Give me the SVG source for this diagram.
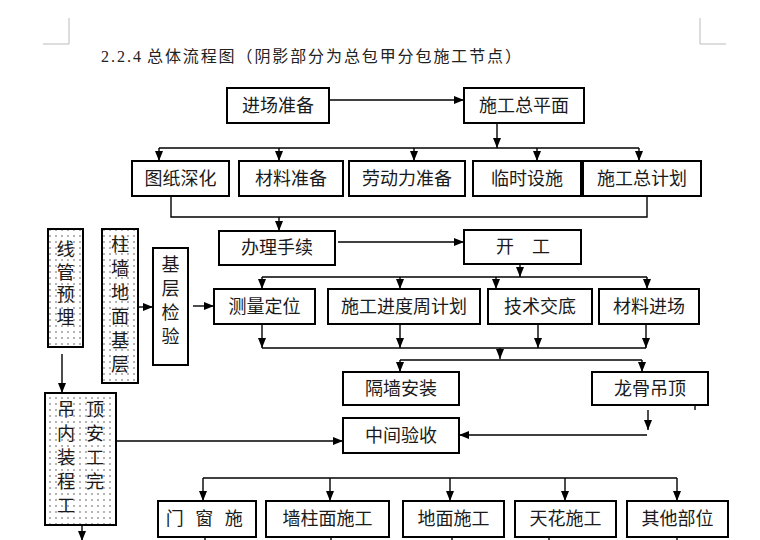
<svg xmlns="http://www.w3.org/2000/svg" width="760" height="540" viewBox="0 0 760 540">
<style>
.box{fill:#fff;stroke:#000;stroke-width:2}
.dot{fill:url(#dots);stroke:#000;stroke-width:2}
.t{font-family:"Liberation Serif","Noto Sans CJK SC",serif;font-size:18px;fill:#1a1a1a;text-anchor:middle;dominant-baseline:central}
.c{fill:none;stroke:#000;stroke-width:1.4}
.a{fill:none;stroke:#000;stroke-width:1.4;marker-end:url(#ah)}
.mark{fill:none;stroke:#bbb;stroke-width:1}
.title{font-family:"Liberation Serif","Noto Sans CJK SC",serif;font-size:16px;fill:#222}
</style>
<defs>
<marker id="ah" viewBox="0 0 10 8" refX="10" refY="4" markerWidth="10" markerHeight="8" markerUnits="userSpaceOnUse" orient="auto">
<path d="M0,0 L10,4 L0,8 Z" fill="#000"/>
</marker>
<pattern id="dots" width="6" height="6" patternUnits="userSpaceOnUse">
<rect width="6" height="6" fill="#fff"/>
<circle cx="2" cy="2" r="0.7" fill="#333"/>
</pattern>
</defs>
<rect width="760" height="540" fill="#fff"/>
<path class="mark" d="M69,18 V44 H43 M700,18 V44 H726"/>
<text class="title" x="101" y="62" textLength="40" lengthAdjust="spacing">2.2.4</text>
<text class="title" x="147" y="62" textLength="374" lengthAdjust="spacing">总体流程图（阴影部分为总包甲分包施工节点）</text>

<g id="connectors">
<line class="a" x1="329" y1="100" x2="464" y2="100"/>
<line class="c" x1="497" y1="123" x2="497" y2="138"/>
<line class="a" x1="497" y1="138" x2="497" y2="148"/>
<line class="c" x1="159" y1="148" x2="639" y2="148"/>
<line class="a" x1="159" y1="148" x2="159" y2="161"/>
<line class="a" x1="279" y1="148" x2="279" y2="161"/>
<line class="a" x1="414" y1="148" x2="414" y2="161"/>
<line class="a" x1="537" y1="148" x2="537" y2="161"/>
<line class="a" x1="639" y1="148" x2="639" y2="161"/>
<path class="c" d="M171,196 V217 H647 V196"/>
<line class="a" x1="279" y1="217" x2="279" y2="231"/>
<line class="a" x1="338" y1="242" x2="464" y2="242"/>
<line class="a" x1="520" y1="264" x2="520" y2="277"/>
<line class="c" x1="262" y1="277" x2="647" y2="277"/>
<line class="a" x1="262" y1="277" x2="262" y2="289"/>
<line class="a" x1="400" y1="277" x2="400" y2="289"/>
<line class="a" x1="496" y1="277" x2="496" y2="289"/>
<line class="a" x1="647" y1="277" x2="647" y2="289"/>
<line class="a" x1="262" y1="324" x2="262" y2="348"/>
<line class="a" x1="400" y1="324" x2="400" y2="348"/>
<line class="a" x1="538" y1="324" x2="538" y2="348"/>
<line class="a" x1="646" y1="324" x2="646" y2="348"/>
<line class="c" x1="262" y1="348" x2="646" y2="348"/>
<line class="a" x1="500" y1="348" x2="500" y2="359"/>
<line class="c" x1="400" y1="360" x2="642" y2="360"/>
<line class="a" x1="400" y1="360" x2="400" y2="372"/>
<line class="a" x1="642" y1="360" x2="642" y2="372"/>
<line class="c" x1="695" y1="405" x2="695" y2="410"/>
<line class="a" x1="648" y1="410" x2="648" y2="430"/>
<line class="a" x1="647" y1="435" x2="459" y2="435"/>
<line class="a" x1="116" y1="441" x2="343" y2="441"/>
<line class="a" x1="62" y1="354" x2="62" y2="393"/>
<line class="a" x1="138" y1="307" x2="153" y2="307"/>
<line class="a" x1="193" y1="306" x2="214" y2="306"/>
<line class="a" x1="82" y1="525" x2="82" y2="541"/>
<line class="c" x1="203" y1="478" x2="677" y2="478"/>
<line class="a" x1="203" y1="478" x2="203" y2="501"/>
<line class="a" x1="330" y1="478" x2="330" y2="501"/>
<line class="a" x1="450" y1="478" x2="450" y2="501"/>
<line class="a" x1="565" y1="478" x2="565" y2="501"/>
<line class="a" x1="677" y1="478" x2="677" y2="501"/>
<path class="c" d="M205,537 V540 M331,537 V540 M452,537 V540 M549,537 V540 M677,537 V540"/>
</g>

<g id="n1"><rect class="box" x="227" y="88" width="102" height="35"/><text class="t" x="278" y="106">进场准备</text></g>
<g id="n2"><rect class="box" x="464" y="88" width="120" height="35"/><text class="t" x="524" y="106">施工总平面</text></g>
<g id="n3"><rect class="box" x="132" y="161" width="97" height="35"/><text class="t" x="180.5" y="179">图纸深化</text></g>
<g id="n4"><rect class="box" x="239" y="161" width="104" height="35"/><text class="t" x="291" y="179">材料准备</text></g>
<g id="n5"><rect class="box" x="349" y="161" width="116" height="35"/><text class="t" x="407" y="179">劳动力准备</text></g>
<g id="n6"><rect class="box" x="473" y="161" width="108" height="35"/><text class="t" x="527" y="179">临时设施</text></g>
<g id="n7"><rect class="box" x="583" y="161" width="118" height="35"/><text class="t" x="642" y="179">施工总计划</text></g>
<g id="n8"><rect class="box" x="219" y="231" width="116" height="34"/><text class="t" x="277" y="248">办理手续</text></g>
<g id="n9"><rect class="box" x="464" y="230" width="117" height="34"/><text class="t" x="523" y="247">开　工</text></g>
<g id="n10"><rect class="box" x="214" y="289" width="101" height="35"/><text class="t" x="264.5" y="307">测量定位</text></g>
<g id="n11"><rect class="box" x="328" y="289" width="152" height="35"/><text class="t" x="404" y="307">施工进度周计划</text></g>
<g id="n12"><rect class="box" x="488" y="289" width="104" height="35"/><text class="t" x="540" y="307">技术交底</text></g>
<g id="n13"><rect class="box" x="599" y="289" width="100" height="35"/><text class="t" x="649" y="307">材料进场</text></g>
<g id="n14"><rect class="box" x="343" y="372" width="116" height="33"/><text class="t" x="401" y="389">隔墙安装</text></g>
<g id="n15"><rect class="box" x="592" y="372" width="116" height="33"/><text class="t" x="650" y="389">龙骨吊顶</text></g>
<g id="n16"><rect class="box" x="343" y="418" width="116" height="35"/><text class="t" x="401" y="436">中间验收</text></g>
<g id="n17"><rect class="dot" x="48" y="229" width="35" height="118"/>
<text class="t" x="65.5"><tspan x="65.5" y="250">线</tspan><tspan x="65.5" y="272.5">管</tspan><tspan x="65.5" y="295">预</tspan><tspan x="65.5" y="317.5">埋</tspan></text></g>
<g id="n18"><rect class="dot" x="102" y="229" width="36" height="154"/>
<text class="t" x="120"><tspan x="120" y="245">柱</tspan><tspan x="120" y="269">墙</tspan><tspan x="120" y="293">地</tspan><tspan x="120" y="317">面</tspan><tspan x="120" y="341">基</tspan><tspan x="120" y="365">层</tspan></text></g>
<g id="n19"><rect class="box" x="153" y="248" width="35" height="117"/>
<text class="t" x="170.5"><tspan x="170.5" y="265">基</tspan><tspan x="170.5" y="289">层</tspan><tspan x="170.5" y="313">检</tspan><tspan x="170.5" y="337">验</tspan></text></g>
<g id="n20"><rect class="dot" x="45" y="393" width="71" height="132"/>
<text class="t" x="66"><tspan x="66" y="410">吊</tspan><tspan x="66" y="434">内</tspan><tspan x="66" y="458">装</tspan><tspan x="66" y="482">程</tspan><tspan x="66" y="506">工</tspan></text>
<text class="t" x="95"><tspan x="95" y="410">顶</tspan><tspan x="95" y="434">安</tspan><tspan x="95" y="458">工</tspan><tspan x="95" y="482">完</tspan></text></g>
<g id="n21"><rect class="box" x="158" y="501" width="98" height="36"/><text class="t" x="206" y="519" letter-spacing="3.5">门 窗 施</text></g>
<g id="n22"><rect class="box" x="266" y="501" width="123" height="36"/><text class="t" x="327.5" y="519">墙柱面施工</text></g>
<g id="n23"><rect class="box" x="403" y="501" width="101" height="36"/><text class="t" x="453.5" y="519">地面施工</text></g>
<g id="n24"><rect class="box" x="515" y="501" width="101" height="36"/><text class="t" x="565.5" y="519">天花施工</text></g>
<g id="n25"><rect class="box" x="627" y="501" width="101" height="36"/><text class="t" x="677.5" y="519">其他部位</text></g>
</svg>
